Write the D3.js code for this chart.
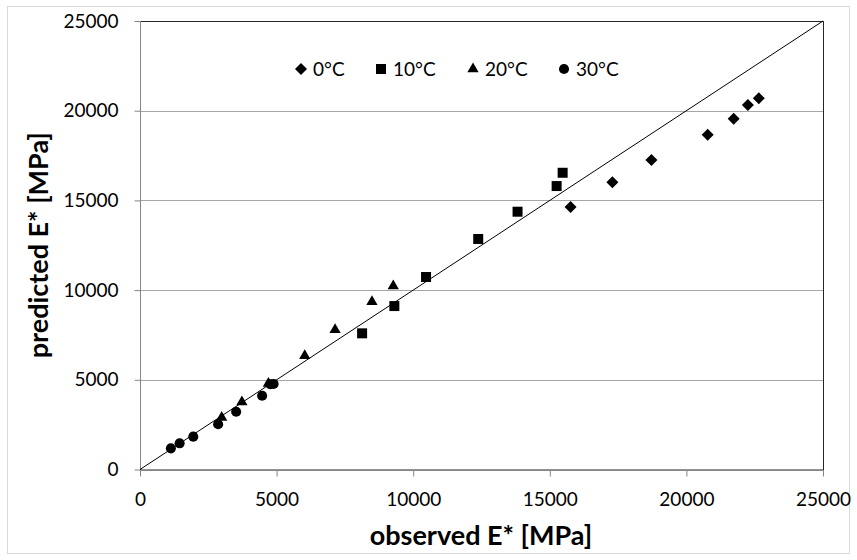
<!DOCTYPE html>
<html>
<head>
<meta charset="utf-8">
<script src="https://cdn.jsdelivr.net/npm/d3@7"></script>
<style>
  body { margin: 0; background: #fff; }
  svg text { font-family: Lato, "Open Sans", sans-serif; fill: #000; }
</style>
</head>
<body>
<div class="chart"></div>
<script>
// observed / predicted E* [MPa] per test temperature
var obs0  = [15760, 17290, 18720, 20780, 21730, 22250, 22650];
var pred0 = [14630, 16010, 17250, 18660, 19550, 20320, 20690];

var obs10  = [8130, 9310, 10470, 12380, 13820, 15250, 15470];
var pred10 = [7590, 9110, 10730, 12850, 14370, 15800, 16540];

var obs20  = [2990, 3730, 4700, 6030, 7140, 8490, 9270];
var pred20 = [2900, 3760, 4790, 6340, 7790, 9350, 10230];

var obs30  = [1130, 1450, 1950, 2860, 3520, 4470, 4770, 4890];
var pred30 = [1180, 1460, 1830, 2520, 3220, 4110, 4750, 4770];

var seriesNames = ["0°C", "10°C", "20°C", "30°C"];
var xTicks = [0, 5000, 10000, 15000, 20000, 25000];
var yTicks = [0, 5000, 10000, 15000, 20000, 25000];
var lineEnds = [0, 25000]; // y = x reference line

//chart size
const w = 857;
const h = 560;

//plot area bounds
const pLeft = 140, pRight = 823, pTop = 21, pBottom = 469.5;

const xScale = d3.scaleLinear().domain([0, 25000]).range([pLeft, pRight]);
const yScale = d3.scaleLinear().domain([0, 25000]).range([pBottom, pTop]);

const svg = d3.select(".chart")
              .append("svg")
              .attr("width", w)
              .attr("height", h);

//outer chart border
svg.append("rect")
   .attr("x", 7.5).attr("y", 6.5)
   .attr("width", 842).attr("height", 547)
   .attr("fill", "none")
   .attr("stroke", "#d9d9d9");

//gridlines
svg.append("g")
   .selectAll("line")
   .data(yTicks.slice(1, -1))
   .enter()
   .append("line")
   .attr("x1", pLeft).attr("x2", pRight)
   .attr("y1", (d) => Math.round(yScale(d)) + 0.5)
   .attr("y2", (d) => Math.round(yScale(d)) + 0.5)
   .attr("stroke", "#a6a6a6");

//plot area border
svg.append("rect")
   .attr("x", pLeft + 0.5).attr("y", pTop + 0.5)
   .attr("width", pRight - pLeft).attr("height", pBottom - pTop)
   .attr("fill", "none")
   .attr("stroke", "#262626");

//x axis
const xAxis = d3.axisBottom(xScale)
                .tickValues(xTicks)
                .tickSize(6)
                .tickFormat(d3.format("d"));
const gx = svg.append("g")
   .attr("transform", "translate(0," + (Math.round(pBottom) + 0.5) + ")")
   .call(xAxis);
gx.select(".domain").attr("d", "M" + pLeft + ",0H" + pRight).attr("stroke", "#868686");
gx.selectAll(".tick line").attr("stroke", "#868686");
gx.selectAll(".tick text")
  .attr("font-size", "19px")
  .attr("font-family", "Lato, sans-serif")
  .attr("dy", "0.71em")
  .attr("y", 22);

//y axis
const yAxis = d3.axisLeft(yScale)
                .tickValues(yTicks)
                .tickSize(6)
                .tickFormat(d3.format("d"));
const gy = svg.append("g")
   .attr("transform", "translate(" + (pLeft + 0.5) + ",0)")
   .call(yAxis);
gy.select(".domain").attr("d", "M0," + pBottom + "V" + pTop).attr("stroke", "#868686");
gy.selectAll(".tick line").attr("stroke", "#868686");
gy.selectAll(".tick text")
  .attr("font-size", "19px")
  .attr("font-family", "Lato, sans-serif")
  .attr("x", -22);

//y = x line
svg.append("line")
   .attr("x1", xScale(lineEnds[0])).attr("y1", yScale(lineEnds[0]))
   .attr("x2", xScale(lineEnds[1])).attr("y2", yScale(lineEnds[1]))
   .attr("stroke", "#000")
   .attr("stroke-width", 1);

//marker shapes per series
const symbols = [
  d3.symbol().type(d3.symbolSquare).size(72),   // rotated -> diamond
  d3.symbol().type(d3.symbolSquare).size(100),
  d3.symbol().type(d3.symbolTriangle).size(55),
  d3.symbol().type(d3.symbolCircle).size(80)
];
const rotations = [45, 0, 0, 0];

const series = [
  [obs0, pred0],
  [obs10, pred10],
  [obs20, pred20],
  [obs30, pred30]
];

series.forEach(function(s, k) {
  svg.append("g")
     .selectAll("path")
     .data(s[0].map((v, i) => [v, s[1][i]]))
     .enter()
     .append("path")
     .attr("d", symbols[k]())
     .attr("transform", (d) => "translate(" + xScale(d[0]) + "," + yScale(d[1]) + ") rotate(" + rotations[k] + ")")
     .attr("fill", "#000");
});

//legend
const legendX = [301, 381, 473, 564];
const legend = svg.append("g");
seriesNames.forEach(function(name, k) {
  legend.append("path")
        .attr("d", symbols[k]())
        .attr("transform", "translate(" + legendX[k] + ",69) rotate(" + rotations[k] + ")")
        .attr("fill", "#000");
  legend.append("text")
        .attr("x", legendX[k] + 12)
        .attr("y", 76)
        .attr("font-size", "19px")
        .text(name);
});

//axis titles
svg.append("text")
   .attr("x", 481)
   .attr("y", 545)
   .attr("text-anchor", "middle")
   .attr("font-size", "27px")
   .attr("font-weight", "bold")
   .text("observed E* [MPa]");

svg.append("text")
   .attr("transform", "translate(48," + ((pTop + pBottom) / 2) + ") rotate(-90)")
   .attr("text-anchor", "middle")
   .attr("font-size", "27px")
   .attr("font-weight", "bold")
   .text("predicted E* [MPa]");
</script>
</body>
</html>
